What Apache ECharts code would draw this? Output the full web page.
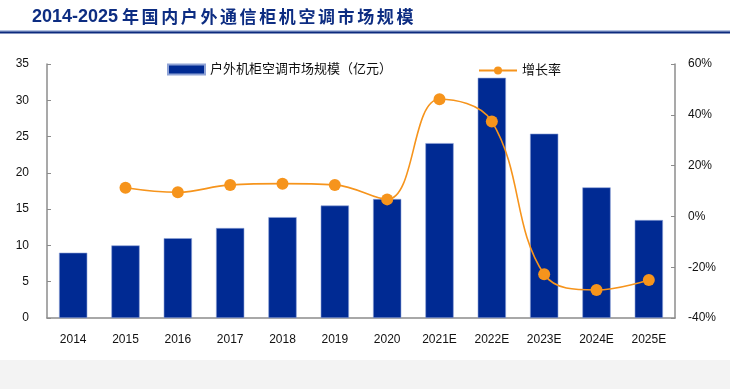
<!DOCTYPE html>
<html><head><meta charset="utf-8">
<script src="https://cdn.jsdelivr.net/npm/echarts@6/dist/echarts.min.js"></script>
<style>html,body{margin:0;padding:0;background:#fff}#c{width:730px;height:389px}</style>
</head><body><div id="c"></div>
<script>
const categories = ['2014','2015','2016','2017','2018','2019','2020','2021E','2022E','2023E','2024E','2025E'];
const marketSize = [9.0, 10.0, 11.0, 12.4, 13.9, 15.5, 16.4, 24.1, 33.1, 25.4, 18.0, 13.5];
const growthRate = [null, 11.3, 9.5, 12.4, 12.9, 12.4, 6.7, 46.1, 37.4, -22.8, -29.0, -25.0];
const leftTicks = {min: 0, max: 35, interval: 5};
const rightTicks = {min: -40, max: 60, interval: 20};
const titleYears = '2014-2025';
const titleWords = '年国内户外通信柜机空调市场规模';

const chart = echarts.init(document.getElementById('c'), null, {renderer: 'canvas'});
const font = 'Arial, "Liberation Sans", "Noto Sans CJK SC", sans-serif';
const titleColor = '#0d2d82';
const titleGraphics = [
  {type: 'text', x: 32, y: 8, style: {text: titleYears, fontSize: 18, fontWeight: 'bold', fill: titleColor, fontFamily: 'Arial, "Liberation Sans"'}, silent: true}
];
Array.from(titleWords).forEach((ch, i) => {
  titleGraphics.push({type: 'text', x: 122 + i * 19.6, y: 8, silent: true,
    style: {text: ch, fontSize: 17, fontWeight: 'bold', fill: titleColor, fontFamily: '"Noto Sans CJK SC"'}});
});
chart.setOption({
  animation: false,
  backgroundColor: '#fff',
  graphic: [
    {type: 'rect', shape: {x: 0, y: 360, width: 730, height: 29}, style: {fill: '#f3f3f3'}, silent: true},
    {type: 'rect', shape: {x: 0, y: 30.5, width: 730, height: 1}, style: {fill: '#6d87c4'}, silent: true},
    {type: 'rect', shape: {x: 0, y: 31.5, width: 730, height: 2}, style: {fill: '#0d2a7e'}, silent: true}
  ].concat(titleGraphics),
  legend: [
    {data: [{name: '户外机柜空调市场规模（亿元）'}], left: 162, top: 58, itemWidth: 37, itemHeight: 10,
     textStyle: {fontSize: 13, color: '#111', fontFamily: font}, icon: 'rect'},
    {data: [{name: '增长率'}], left: 473, top: 59, itemWidth: 38, itemHeight: 10,
     textStyle: {fontSize: 13, color: '#111', fontFamily: font}}
  ],
  grid: {left: 47, right: 55, top: 64, bottom: 71, containLabel: false},
  xAxis: {
    type: 'category', data: categories,
    axisLine: {lineStyle: {color: '#8c8c8c', width: 1.5}},
    axisTick: {inside: true, length: 4, lineStyle: {color: '#8c8c8c'}},
    axisLabel: {color: '#111', fontSize: 12, fontFamily: font, margin: 16}
  },
  yAxis: [
    {type: 'value', min: leftTicks.min, max: leftTicks.max, interval: leftTicks.interval,
     splitLine: {show: false},
     axisLine: {show: true, lineStyle: {color: '#8c8c8c', width: 1.5}},
     axisTick: {show: true, inside: true, length: 4, lineStyle: {color: '#8c8c8c'}},
     axisLabel: {color: '#111', fontSize: 12, fontFamily: font, margin: 18}},
    {type: 'value', min: rightTicks.min, max: rightTicks.max, interval: rightTicks.interval,
     splitLine: {show: false},
     axisLine: {show: true, lineStyle: {color: '#8c8c8c', width: 1.5}},
     axisTick: {show: true, inside: true, length: 4, lineStyle: {color: '#8c8c8c'}},
     axisLabel: {color: '#111', fontSize: 12, fontFamily: font, margin: 13, formatter: '{value}%'}}
  ],
  series: [
    {name: '户外机柜空调市场规模（亿元）', type: 'bar', data: marketSize, barWidth: '54%', yAxisIndex: 0,
     itemStyle: {color: '#002a93', borderColor: '#8fa3d6', borderWidth: 0.6}},
    {name: '增长率', type: 'line', data: growthRate, yAxisIndex: 1, smooth: 0.4,
     symbol: 'circle', symbolSize: 12,
     lineStyle: {color: '#f6941c', width: 1.6},
     itemStyle: {color: '#f6941c'}}
  ]
});
</script></body></html>
